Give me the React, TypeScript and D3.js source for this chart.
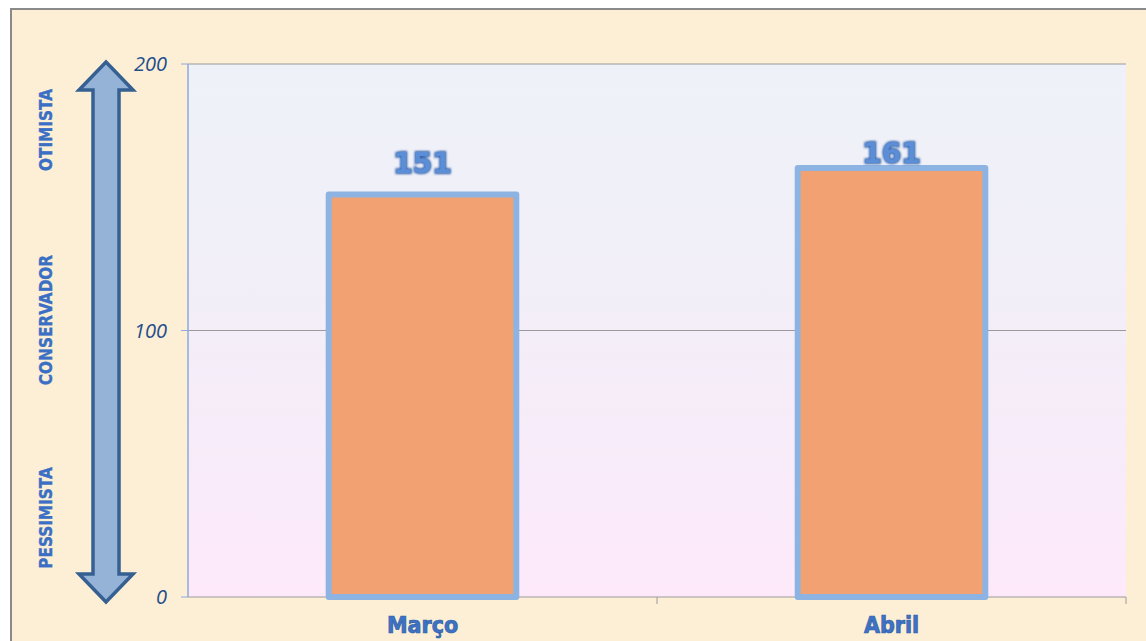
import React from 'react';
import * as d3 from 'd3';

const categories = ['Março', 'Abril'];
const values = [151, 161];
const labelGap = [22, 5];
const yTicks = [0, 100, 200];
const scaleLabels = ['OTIMISTA', 'CONSERVADOR', 'PESSIMISTA'];

const W = 1146;
const H = 641;
const plot = { left: 188, right: 1126, top: 64, bottom: 597 };

export default function App() {
  const x = d3
    .scaleBand<string>()
    .domain(categories)
    .range([plot.left, plot.right])
    .paddingInner(0.6)
    .paddingOuter(0.3);
  const y = d3.scaleLinear().domain([0, 200]).range([plot.bottom, plot.top]);

  // double arrow on the left
  const ax = 106;
  const shaft = 13;
  const head = 27;
  const headH = 28;
  const aTop = 62;
  const aBot = 602;
  const arrow = [
    [ax, aTop],
    [ax + head, aTop + headH],
    [ax + shaft, aTop + headH],
    [ax + shaft, aBot - headH],
    [ax + head, aBot - headH],
    [ax, aBot],
    [ax - head, aBot - headH],
    [ax - shaft, aBot - headH],
    [ax - shaft, aTop + headH],
    [ax - head, aTop + headH],
  ];
  const arrowPath = d3.line()(arrow as [number, number][]) + 'Z';

  const labelY = [130, 320, 518];
  const mid = (plot.left + plot.right) / 2;

  return (
    <svg width={W} height={H} style={{ position: 'absolute', left: 0, top: 0 }}>
      <defs>
        <linearGradient id="plotBg" x1="0" y1="0" x2="0" y2="1">
          <stop offset="0" stopColor="#EEF2F8" />
          <stop offset="0.45" stopColor="#F2EEF8" />
          <stop offset="1" stopColor="#FDE9FA" />
        </linearGradient>
        <filter id="glow" x="-20%" y="-20%" width="140%" height="140%">
          <feGaussianBlur stdDeviation="1.2" />
        </filter>
      </defs>
      <rect x={0} y={0} width={W} height={H} fill="#fff" />
      <rect x={11} y={9} width={W} height={H} fill="#FCEFD5" stroke="#8a8a8a" strokeWidth={2} />
      <rect x={plot.left} y={plot.top} width={plot.right - plot.left} height={plot.bottom - plot.top} fill="url(#plotBg)" />

      {/* gridlines */}
      {yTicks.map((t) => (
        <line key={t} x1={plot.left} x2={plot.right} y1={y(t)} y2={y(t)} stroke="#9a9a9a" strokeWidth={1} />
      ))}
      {/* axis lines */}
      <line x1={plot.left} x2={plot.left} y1={plot.top} y2={plot.bottom} stroke="#8EAADB" strokeWidth={1.5} />
      <line x1={plot.right} x2={plot.right} y1={plot.bottom} y2={plot.bottom + 7} stroke="#9a9a9a" />
      <line x1={mid} x2={mid} y1={plot.bottom} y2={plot.bottom + 7} stroke="#9a9a9a" />
      {yTicks.map((t) => (
        <line key={'t' + t} x1={plot.left - 7} x2={plot.left} y1={y(t)} y2={y(t)} stroke="#8EAADB" />
      ))}
      {yTicks.map((t) => (
        <text
          key={'l' + t}
          x={plot.left - 21}
          y={y(t) + 7}
          textAnchor="end"
          fontFamily="'Open Sans', 'DejaVu Sans', sans-serif"
          fontStyle="italic"
          fontSize={20}
          fill="#1F4E8C"
        >
          {t}
        </text>
      ))}

      {/* bars */}
      {categories.map((c, i) => (
        <rect
          key={c}
          x={x(c)}
          y={y(values[i])}
          width={x.bandwidth()}
          height={plot.bottom - y(values[i])}
          fill="#F2A272"
          stroke="#8DB3E2"
          strokeWidth={6}
          strokeLinejoin="round"
        />
      ))}
      {categories.map((c, i) => (
        <g key={'v' + c}>
          <text
            x={(x(c) as number) + x.bandwidth() / 2}
            y={y(values[i]) - labelGap[i]}
            textAnchor="middle"
            fontFamily="'DejaVu Sans', sans-serif"
            fontWeight="bold"
            fontSize={28}
            fill="#2E5FA8"
            stroke="#2E5FA8"
            strokeWidth={2}
            filter="url(#glow)"
          >
            {values[i]}
          </text>
          <text
            x={(x(c) as number) + x.bandwidth() / 2}
            y={y(values[i]) - labelGap[i]}
            textAnchor="middle"
            fontFamily="'DejaVu Sans', sans-serif"
            fontWeight="bold"
            fontSize={28}
            fill="#5B8ED6"
          >
            {values[i]}
          </text>
        </g>
      ))}
      {categories.map((c) => (
        <text
          key={'c' + c}
          x={(x(c) as number) + x.bandwidth() / 2}
          y={633}
          textAnchor="middle"
          fontFamily="'DejaVu Sans Condensed', 'Liberation Sans Narrow', sans-serif"
          fontWeight="bold"
          fontSize={23}
          fill="#3E72C4"
          stroke="#2E5FA8"
          strokeWidth={0.7}
        >
          {c}
        </text>
      ))}

      {/* arrow + scale labels */}
      <path d={arrowPath} fill="#95B3D7" stroke="#366092" strokeWidth={3.5} strokeLinejoin="miter" />
      {scaleLabels.map((s, i) => (
        <text
          key={s}
          transform={`translate(52,${labelY[i]}) rotate(-90)`}
          textAnchor="middle"
          fontFamily="'Liberation Sans Narrow', 'DejaVu Sans Condensed', sans-serif"
          fontWeight="bold"
          fontSize={17}
          fill="#3A6FC4"
          stroke="#3A6FC4"
          strokeWidth={0.4}
        >
          {s}
        </text>
      ))}
    </svg>
  );
}
